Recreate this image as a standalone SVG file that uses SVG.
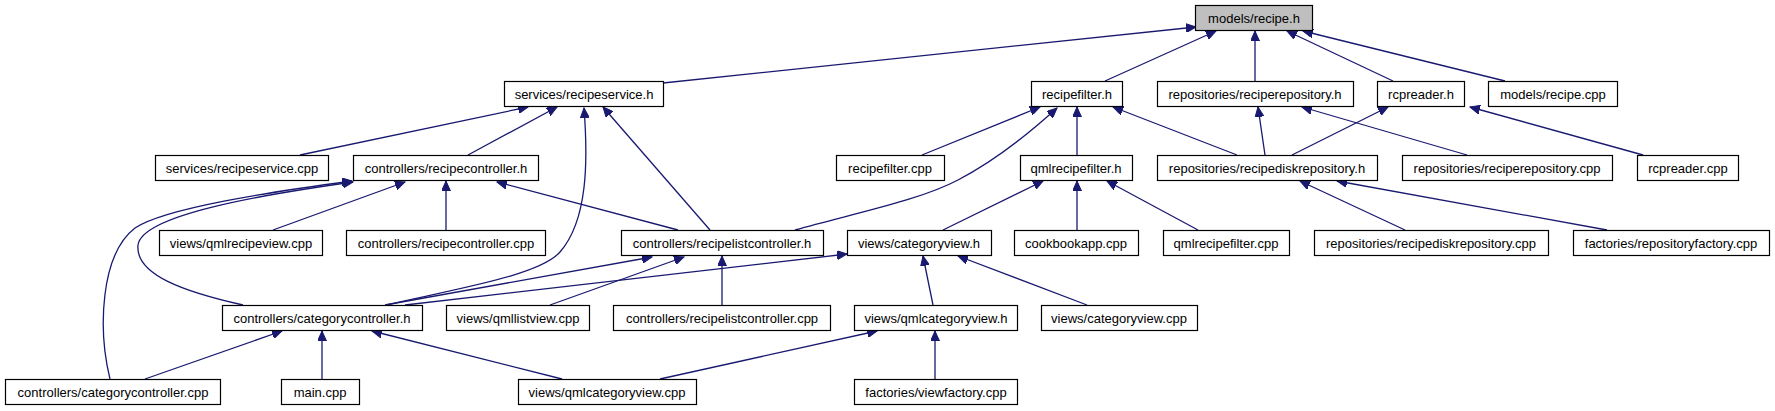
<svg xmlns="http://www.w3.org/2000/svg" width="1775" height="411" viewBox="0 0 1775 411">
<defs>
<marker id="arr" markerWidth="11" markerHeight="9" refX="10" refY="4.5" orient="auto" markerUnits="userSpaceOnUse">
<path d="M0,0 L10,4.5 L0,9 z" fill="#191970" stroke="#191970" stroke-width="1"/>
</marker>
</defs>
<style>
.n rect{fill:#ffffff;stroke:#000000;stroke-width:1.2}
.n.root rect{fill:#bfbfbf}
.n text{font-family:"Liberation Sans",Arial,sans-serif;font-size:13px;fill:#000000;text-anchor:middle}
#edges path{fill:none;stroke:#191970;stroke-width:1.3;marker-end:url(#arr)}
</style>
<rect width="1775" height="411" fill="#ffffff"/>
<g id="edges">
<path d="M663,83 L1196,27"/>
<path d="M1105,81 L1216,31"/>
<path d="M1255,81 L1255,31"/>
<path d="M1393,81 L1287,31"/>
<path d="M1505,81 L1303,31"/>
<path d="M300,155 L528,107"/>
<path d="M468,155 L557,107"/>
<path d="M386,305 C460,288 540,275 560,252 C588,220 588,160 584,108"/>
<path d="M710,230 L603,107"/>
<path d="M922,155 L1040,107"/>
<path d="M795,230 C860,212 920,200 958,180 C1000,158 1035,128 1057,108"/>
<path d="M1077,155 L1077,107"/>
<path d="M1237,155 L1113,107"/>
<path d="M1265,155 L1258,107"/>
<path d="M1467,155 L1302,107"/>
<path d="M1292,155 L1388,107"/>
<path d="M1643,155 L1470,107"/>
<path d="M446,230 L446,181"/>
<path d="M273,230 L405,182"/>
<path d="M678,230 L497,182"/>
<path d="M243,305 C185,292 135,275 138,245 C142,215 260,195 353,182"/>
<path d="M110,379 C98,330 100,255 135,228 C165,208 270,192 352,181"/>
<path d="M722,305 L722,256"/>
<path d="M385,305 L652,257"/>
<path d="M550,305 L684,257"/>
<path d="M405,305 L847,254"/>
<path d="M933,305 L923,256"/>
<path d="M1087,305 L958,256"/>
<path d="M943,230 L1043,181"/>
<path d="M1077,230 L1077,181"/>
<path d="M1198,230 L1107,181"/>
<path d="M1405,230 L1300,181"/>
<path d="M1607,230 L1337,181"/>
<path d="M145,379 L282,331"/>
<path d="M322,379 L322,331"/>
<path d="M562,379 L372,331"/>
<path d="M660,379 L877,331"/>
<path d="M935,379 L935,331"/>
</g>
<g id="n0" class="n root"><rect x="1195.5" y="5.5" width="117" height="25"/><text x="1254" y="23">models/recipe.h</text></g>
<g id="n1" class="n"><rect x="504.5" y="81.5" width="159" height="25"/><text x="584" y="99">services/recipeservice.h</text></g>
<g id="n2" class="n"><rect x="1031.5" y="81.5" width="91" height="25"/><text x="1077" y="99">recipefilter.h</text></g>
<g id="n3" class="n"><rect x="1157.5" y="81.5" width="196" height="25"/><text x="1255" y="99">repositories/reciperepository.h</text></g>
<g id="n4" class="n"><rect x="1377.5" y="81.5" width="87" height="25"/><text x="1421" y="99">rcpreader.h</text></g>
<g id="n5" class="n"><rect x="1488.5" y="81.5" width="129" height="25"/><text x="1553" y="99">models/recipe.cpp</text></g>
<g id="n6" class="n"><rect x="155.5" y="155.5" width="173" height="25"/><text x="242" y="173">services/recipeservice.cpp</text></g>
<g id="n7" class="n"><rect x="353.5" y="155.5" width="185" height="25"/><text x="446" y="173">controllers/recipecontroller.h</text></g>
<g id="n8" class="n"><rect x="836.5" y="155.5" width="108" height="25"/><text x="890" y="173">recipefilter.cpp</text></g>
<g id="n9" class="n"><rect x="1020.5" y="155.5" width="112" height="25"/><text x="1076" y="173">qmlrecipefilter.h</text></g>
<g id="n10" class="n"><rect x="1157.5" y="155.5" width="220" height="25"/><text x="1267" y="173">repositories/recipediskrepository.h</text></g>
<g id="n11" class="n"><rect x="1402.5" y="155.5" width="210" height="25"/><text x="1507" y="173">repositories/reciperepository.cpp</text></g>
<g id="n12" class="n"><rect x="1637.5" y="155.5" width="101" height="25"/><text x="1688" y="173">rcpreader.cpp</text></g>
<g id="n13" class="n"><rect x="159.5" y="230.5" width="163" height="25"/><text x="241" y="248">views/qmlrecipeview.cpp</text></g>
<g id="n14" class="n"><rect x="346.5" y="230.5" width="199" height="25"/><text x="446" y="248">controllers/recipecontroller.cpp</text></g>
<g id="n15" class="n"><rect x="621.5" y="230.5" width="202" height="25"/><text x="722" y="248">controllers/recipelistcontroller.h</text></g>
<g id="n16" class="n"><rect x="847.5" y="230.5" width="144" height="25"/><text x="919" y="248">views/categoryview.h</text></g>
<g id="n17" class="n"><rect x="1014.5" y="230.5" width="124" height="25"/><text x="1076" y="248">cookbookapp.cpp</text></g>
<g id="n18" class="n"><rect x="1163.5" y="230.5" width="126" height="25"/><text x="1226" y="248">qmlrecipefilter.cpp</text></g>
<g id="n19" class="n"><rect x="1314.5" y="230.5" width="234" height="25"/><text x="1431" y="248">repositories/recipediskrepository.cpp</text></g>
<g id="n20" class="n"><rect x="1573.5" y="230.5" width="196" height="25"/><text x="1671" y="248">factories/repositoryfactory.cpp</text></g>
<g id="n21" class="n"><rect x="222.5" y="305.5" width="200" height="25"/><text x="322" y="323">controllers/categorycontroller.h</text></g>
<g id="n22" class="n"><rect x="446.5" y="305.5" width="143" height="25"/><text x="518" y="323">views/qmllistview.cpp</text></g>
<g id="n23" class="n"><rect x="613.5" y="305.5" width="217" height="25"/><text x="722" y="323">controllers/recipelistcontroller.cpp</text></g>
<g id="n24" class="n"><rect x="854.5" y="305.5" width="163" height="25"/><text x="936" y="323">views/qmlcategoryview.h</text></g>
<g id="n25" class="n"><rect x="1041.5" y="305.5" width="156" height="25"/><text x="1119" y="323">views/categoryview.cpp</text></g>
<g id="n26" class="n"><rect x="5.5" y="379.5" width="215" height="25"/><text x="113" y="397">controllers/categorycontroller.cpp</text></g>
<g id="n27" class="n"><rect x="281.5" y="379.5" width="78" height="25"/><text x="320" y="397">main.cpp</text></g>
<g id="n28" class="n"><rect x="518.5" y="379.5" width="178" height="25"/><text x="607" y="397">views/qmlcategoryview.cpp</text></g>
<g id="n29" class="n"><rect x="854.5" y="379.5" width="163" height="25"/><text x="936" y="397">factories/viewfactory.cpp</text></g>
</svg>
